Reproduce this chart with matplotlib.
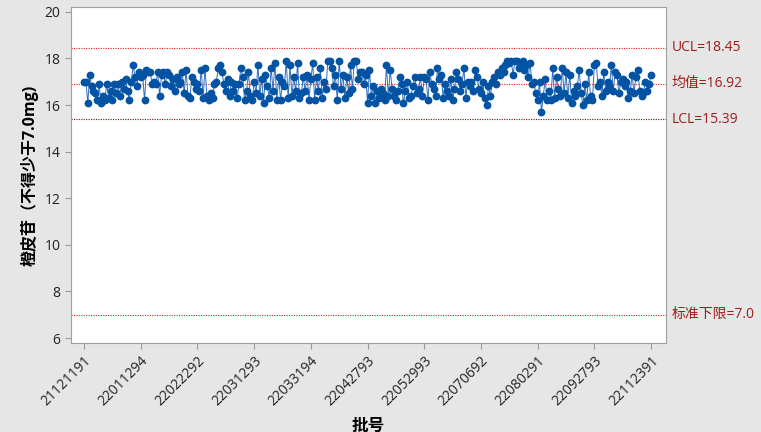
import numpy as np
import matplotlib
matplotlib.use("Agg")
import matplotlib.pyplot as plt

plt.rcParams['font.family'] = ['Open Sans', 'Noto Sans CJK SC', 'DejaVu Sans']

# ── 数据 ────────────────────────────────
values = [
    # 0-29
    17.0, 17.0, 16.1, 17.3, 16.8, 16.6, 16.5, 16.2, 16.9, 16.1,
    16.4, 16.2, 16.9, 16.3, 16.6, 16.2, 16.9, 16.5, 16.9, 16.4,
    17.0, 16.7, 17.1, 16.6, 16.2, 17.0, 17.7, 17.2, 16.8, 17.4,
    # 30-59
    17.2, 17.3, 16.2, 17.5, 17.4, 17.4, 16.9, 17.0, 16.9, 17.4,
    16.4, 17.3, 17.4, 16.9, 17.4, 17.3, 16.8, 17.1, 16.6, 17.2,
    16.9, 17.0, 17.4, 16.5, 17.5, 16.4, 16.3, 17.2, 17.0, 16.7,
    # 60-89
    16.9, 16.6, 17.5, 16.3, 17.6, 16.4, 16.2, 16.5, 16.3, 16.9,
    17.0, 17.6, 17.7, 17.4, 16.9, 16.6, 17.1, 16.4, 17.0, 16.6,
    16.9, 16.3, 16.9, 17.6, 17.2, 16.2, 16.6, 17.4, 16.4, 16.2,
    # 90-119
    17.0, 16.5, 17.7, 16.4, 17.1, 16.1, 17.3, 16.8, 16.3, 17.6,
    16.6, 17.8, 16.2, 17.2, 16.2, 17.0, 16.8, 17.9, 16.3, 17.7,
    16.4, 17.2, 16.6, 17.8, 16.3, 16.5, 17.2, 16.6, 17.3, 16.2,
    # 120-149
    17.1, 17.8, 16.2, 17.2, 16.6, 17.6, 16.3, 17.0, 16.7, 17.9,
    17.9, 17.6, 16.8, 17.3, 16.2, 17.9, 16.7, 17.3, 16.3, 17.2,
    16.5, 17.7, 16.7, 17.9, 17.9, 17.1, 17.4, 17.4, 16.9, 17.3,
    # 150-179
    16.1, 17.5, 16.4, 16.8, 16.1, 16.6, 16.3, 16.7, 16.5, 16.2,
    17.7, 16.4, 17.5, 16.7, 16.4, 16.2, 16.6, 17.2, 16.9, 16.1,
    16.6, 17.0, 16.3, 16.4, 16.8, 17.2, 16.5, 16.7, 17.2, 16.4,
    # 180-209
    17.2, 17.1, 16.2, 17.4, 16.9, 16.7, 16.4, 17.6, 17.1, 17.3,
    16.3, 16.9, 16.6, 16.4, 17.1, 16.2, 16.7, 17.4, 17.1, 16.6,
    16.9, 17.6, 16.3, 17.0, 16.8, 17.0, 16.6, 17.5, 17.2, 16.7,
    # 210-239
    16.5, 17.0, 16.3, 16.0, 16.8, 16.4, 17.0, 17.2, 16.9, 17.4,
    17.3, 17.6, 17.4, 17.7, 17.9, 17.8, 17.9, 17.3, 17.9, 17.9,
    17.6, 17.8, 17.9, 17.5, 17.7, 17.2, 17.8, 16.9, 17.0, 16.5,
    # 240-269
    16.2, 17.0, 15.7, 16.4, 17.1, 16.2, 16.6, 16.2, 17.6, 16.3,
    17.2, 16.7, 16.4, 17.6, 16.5, 17.4, 16.3, 17.3, 16.1, 16.6,
    16.4, 16.8, 17.5, 16.5, 16.0, 16.9, 16.2, 17.4, 16.4, 16.2,
    # 270-300
    17.7, 17.8, 16.8, 17.0, 16.4, 17.4, 16.6, 17.0, 16.8, 17.7,
    16.6, 17.4, 17.3, 16.5, 17.0, 17.1, 16.8, 17.0, 16.3, 16.6,
    17.3, 16.5, 17.2, 17.5, 16.6, 16.4, 16.5, 17.0, 16.6, 16.9,
    17.3,
]
tick_idx = [0, 30, 60, 90, 120, 150, 180, 210, 240, 270, 300]
tick_labels = ["21121191", "22011294", "22022292", "22031293", "22033194",
               "22042793", "22052993", "22070692", "22080291", "22092793",
               "22112391"]
ucl, mean, lcl, lower_spec = 18.45, 16.92, 15.39, 7.0
ref_labels = ["UCL=18.45", "均值=16.92", "LCL=15.39", "标准下限=7.0"]

BG = "#e6e6e6"
TXT_RED = "#a11b1b"

fig = plt.figure(figsize=(7.61, 4.32), dpi=100, facecolor=BG)
ax = fig.add_axes([0.0933, 0.206, 0.7818, 0.778])
ax.set_facecolor("white")

x = np.arange(len(values))
ax.plot(x, values, color="#2f6fc0", lw=0.7, zorder=2)
ax.plot(x, values, ls="none", marker="o", ms=4.6, color="#0353a4",
        mec="#0353a4", zorder=3)

# 参考线
for yv, c in [(ucl, "#e02020"), (mean, "#e02020"), (lcl, "#6b1414"),
              (lower_spec, "#e02020")]:
    ax.axhline(yv, color=c, lw=0.8, ls=(0, (1, 1.2)), zorder=1)

for yv, lab in zip([ucl, mean, lcl, lower_spec], ref_labels):
    ax.annotate(lab, xy=(1.0, yv), xycoords=("axes fraction", "data"),
                xytext=(4, 0), textcoords="offset points", va="center",
                ha="left", color=TXT_RED, fontsize=10, annotation_clip=False)

ax.set_xlim(-6.9, 307.9)
ax.set_ylim(5.79, 20.21)
ax.set_yticks([6, 8, 10, 12, 14, 16, 18, 20])
ax.set_xticks(tick_idx)
ax.set_xticklabels(tick_labels, rotation=45, ha="right",
                   rotation_mode="anchor", fontsize=10)
ax.tick_params(axis="y", labelsize=10, colors="#222222")
ax.tick_params(axis="x", colors="#222222")
ax.tick_params(color="#999999", length=4)
for s in ax.spines.values():
    s.set_color("#a0a0a0")

ax.set_ylabel("橙皮苷（不得少于7.0mg)", fontsize=11.5, fontweight="bold")
ax.set_xlabel("批号", fontsize=12, fontweight="bold", labelpad=6)

fig.savefig("out.png", dpi=100, facecolor=BG)
